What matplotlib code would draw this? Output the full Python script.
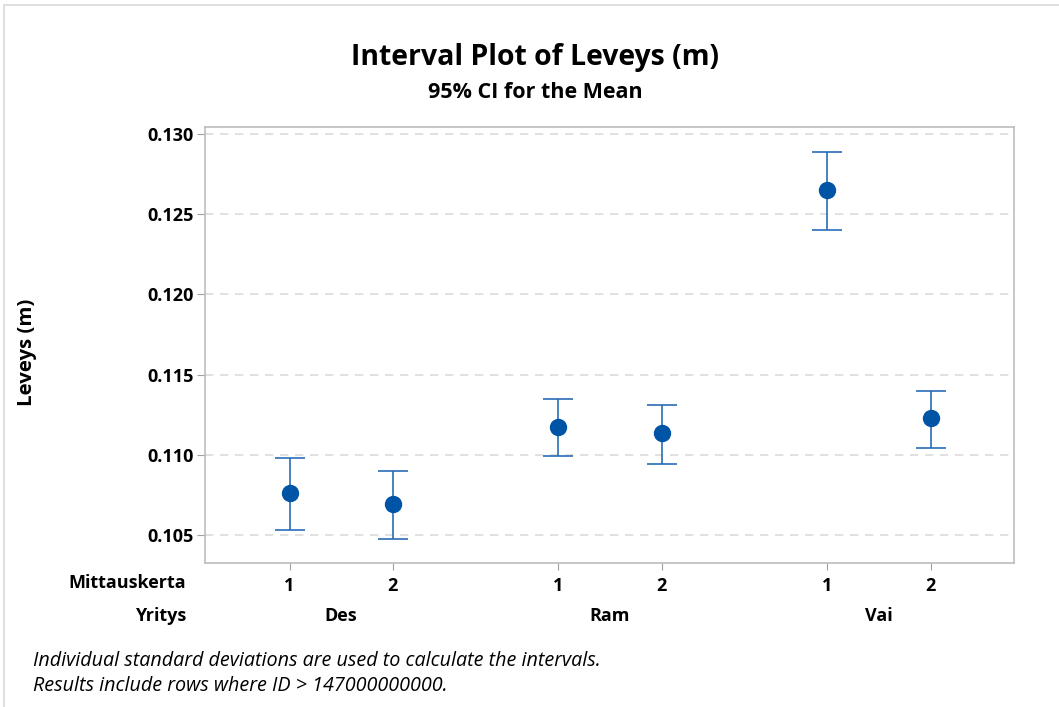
import numpy as np
import matplotlib.pyplot as plt
from matplotlib.patches import Rectangle

plt.rcParams['font.family'] = ['Open Sans', 'DejaVu Sans']

yritys = ['Des', 'Ram', 'Vai']
mittauskerta = ['1', '2', '1', '2', '1', '2']
means = [0.10762, 0.10693, 0.11173, 0.11136, 0.12651, 0.11229]
upper = [0.10980, 0.10899, 0.11348, 0.11310, 0.12888, 0.11398]
lower = [0.10530, 0.10475, 0.10993, 0.10943, 0.12401, 0.11042]

# x positions: pairs inside a group, wider gap between groups
gap = 1.61
xpos = np.array([0, 1, gap + 1, gap + 2, 2 * gap + 2, 2 * gap + 3])

W, H = 1059, 707
fig = plt.figure(figsize=(W / 100, H / 100), dpi=100)
ax = fig.add_axes([205 / W, 1 - 563 / H, (1014 - 205) / W, (563 - 127) / H])

# frame round the whole graph
fig.patches.append(Rectangle((4 / W, -0.01), 1.02, 1 - 5 / H + 0.01,
                             transform=fig.transFigure, fill=False,
                             edgecolor='#d9d9d9', lw=1.2))

means = np.array(means)
yerr = [means - np.array(lower), np.array(upper) - means]
ax.errorbar(xpos, means, yerr=yerr, fmt='none', ecolor='#2a6cb6',
            elinewidth=1.2, capsize=11, capthick=1.2, zorder=3)
ax.plot(xpos, means, 'o', color='#0054a6', ms=11.5, zorder=4)

ax.set_xlim(-0.82, xpos[-1] + 0.81)
ax.set_ylim(0.10325, 0.13044)
ax.set_yticks([0.105, 0.110, 0.115, 0.120, 0.125, 0.130])
ax.set_yticklabels(['0.105', '0.110', '0.115', '0.120', '0.125', '0.130'],
                   fontsize=13, fontweight='bold')
ax.yaxis.grid(True, ls=(0, (5, 4)), color='#dcdcdc', lw=1.2)
ax.set_axisbelow(True)

ax.set_xticks(xpos)
ax.set_xticklabels(mittauskerta, fontsize=13, fontweight='bold')
ax.tick_params(axis='x', length=5, color='#a0a0a0', pad=5)
ax.tick_params(axis='y', length=6, color='#a0a0a0', pad=2)
for s in ax.spines.values():
    s.set_color('#bdbdbd')
    s.set_linewidth(1.2)

# second level labels (companies)
for i, name in enumerate(yritys):
    cx = (xpos[2 * i] + xpos[2 * i + 1]) / 2
    ax.text(cx, 1 - (616 - 127) / (563 - 127), name,
            transform=ax.get_xaxis_transform(),
            ha='center', va='center', fontsize=13, fontweight='bold')

fig.text(186 / W, 1 - 583 / H, 'Mittauskerta', ha='right', va='center',
         fontsize=13, fontweight='bold')
fig.text(186 / W, 1 - 616 / H, 'Yritys', ha='right', va='center',
         fontsize=13, fontweight='bold')

fig.text(27 / W, 1 - 352 / H, 'Leveys (m)', rotation=90, ha='center',
         va='center', fontsize=14.7, fontweight='bold')

fig.text(535 / W, 1 - 57 / H, 'Interval Plot of Leveys (m)', ha='center',
         va='center', fontsize=20.4, fontweight='bold')
fig.text(535 / W, 1 - 92 / H, '95% CI for the Mean', ha='center',
         va='center', fontsize=15.5, fontweight='bold')

fig.text(33 / W, 1 - 661 / H,
         'Individual standard deviations are used to calculate the intervals.',
         ha='left', va='center', fontsize=14.2, style='italic')
fig.text(33 / W, 1 - 686 / H, 'Results include rows where ID > 147000000000.',
         ha='left', va='center', fontsize=14.2, style='italic')

fig.savefig('out.png', dpi=100)
